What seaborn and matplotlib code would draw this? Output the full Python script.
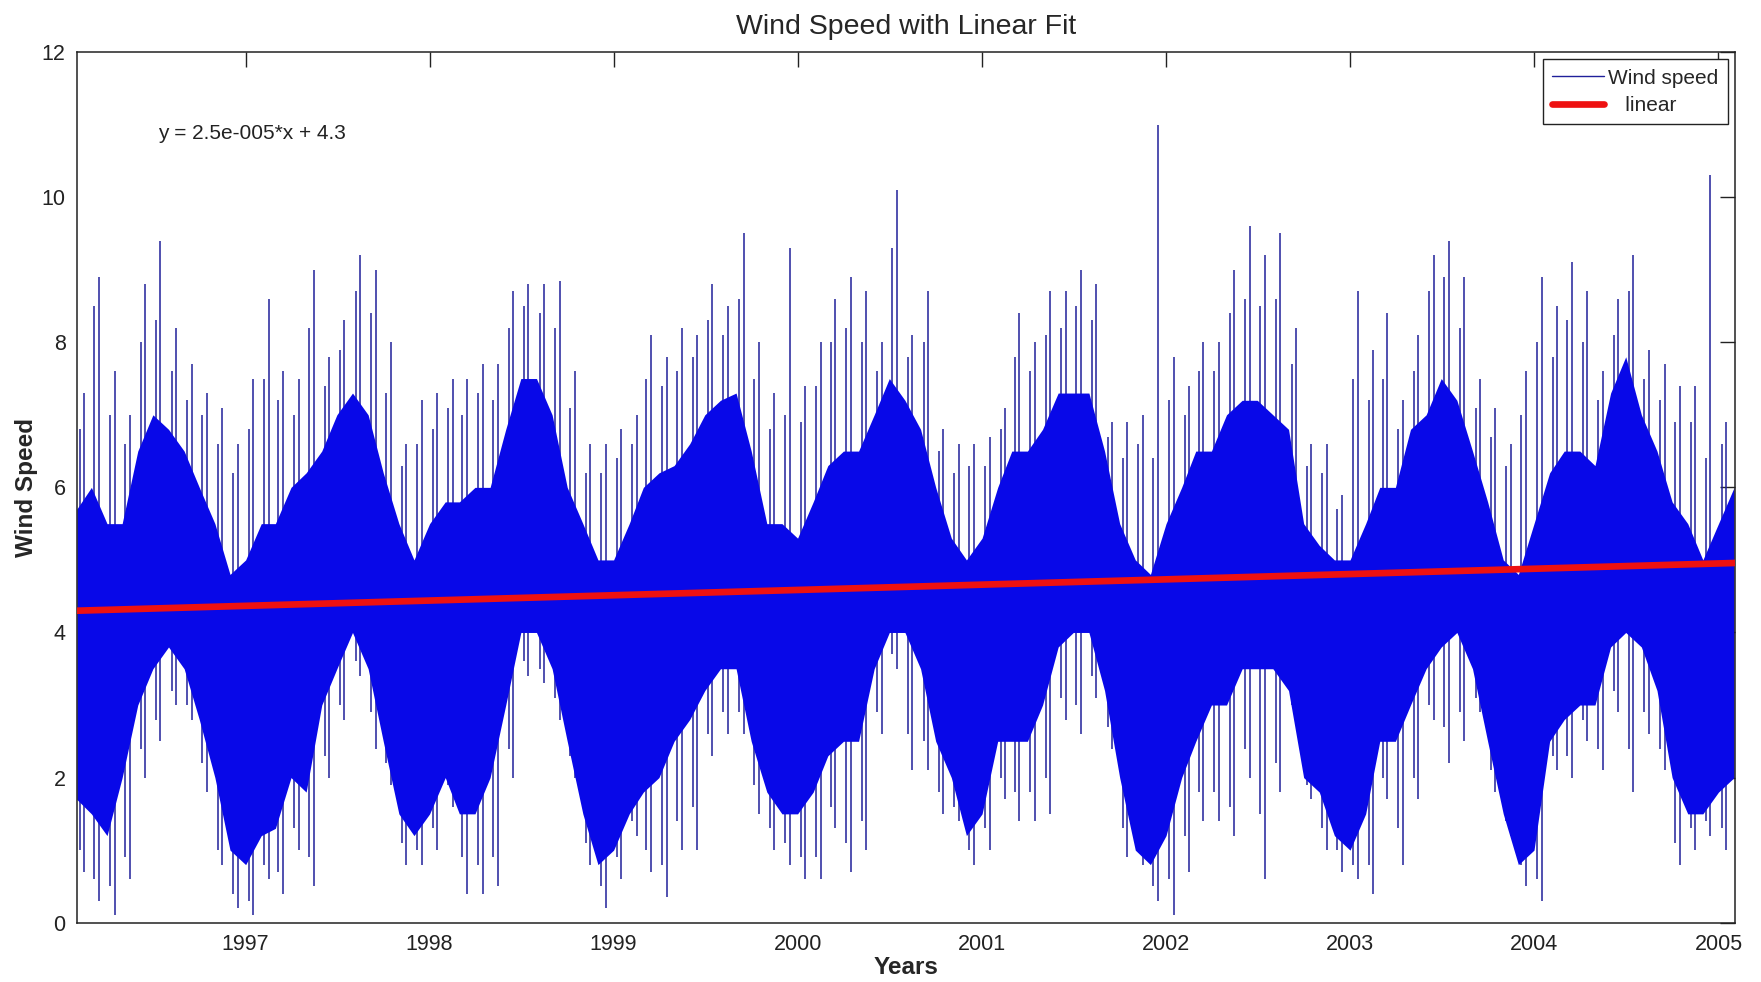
import numpy as np
import pandas as pd
import matplotlib
matplotlib.use("Agg")
import matplotlib.pyplot as plt
from matplotlib.lines import Line2D
import seaborn as sns

# monthly readings of the wind speed trace, Feb 1996 .. Feb 2005
# band_* = dense part of the trace, peak_* = extreme spikes in that month,
# spike2_* = the next-largest spikes of the month
band_low = [1.7, 1.5, 1.2, 2.0, 3.0, 3.5, 3.8, 3.5, 2.8, 2.0, 1.0, 0.8,
            1.2, 1.3, 2.0, 1.8, 3.0, 3.5, 4.0, 3.5, 2.5, 1.5, 1.2, 1.5,
            2.0, 1.5, 1.5, 2.0, 3.0, 4.0, 4.0, 3.5, 2.5, 1.5, 0.8, 1.0,
            1.5, 1.8, 2.0, 2.5, 2.8, 3.2, 3.5, 3.5, 2.5, 1.8, 1.5, 1.5,
            1.8, 2.3, 2.5, 2.5, 3.5, 4.0, 4.0, 3.5, 2.5, 2.0, 1.2, 1.5,
            2.5, 2.5, 2.5, 3.0, 3.8, 4.0, 4.0, 3.2, 2.0, 1.0, 0.8, 1.2,
            2.0, 2.5, 3.0, 3.0, 3.5, 3.5, 3.5, 3.2, 2.0, 1.8, 1.2, 1.0,
            1.5, 2.5, 2.5, 3.0, 3.5, 3.8, 4.0, 3.5, 2.5, 1.5, 0.8, 1.0,
            2.5, 2.8, 3.0, 3.0, 3.8, 4.0, 3.8, 3.2, 2.0, 1.5, 1.5, 1.8,
            2.0]
band_high = [5.7, 6.0, 5.5, 5.5, 6.5, 7.0, 6.8, 6.5, 6.0, 5.5, 4.8, 5.0,
             5.5, 5.5, 6.0, 6.2, 6.5, 7.0, 7.3, 7.0, 6.2, 5.5, 5.0, 5.5,
             5.8, 5.8, 6.0, 6.0, 6.8, 7.5, 7.5, 7.0, 6.0, 5.5, 5.0, 5.0,
             5.5, 6.0, 6.2, 6.3, 6.6, 7.0, 7.2, 7.3, 6.5, 5.5, 5.5, 5.3,
             5.8, 6.3, 6.5, 6.5, 7.0, 7.5, 7.2, 6.8, 6.0, 5.3, 5.0, 5.3,
             6.0, 6.5, 6.5, 6.8, 7.3, 7.3, 7.3, 6.5, 5.5, 5.0, 4.8, 5.5,
             6.0, 6.5, 6.5, 7.0, 7.2, 7.2, 7.0, 6.8, 5.5, 5.2, 5.0, 5.0,
             5.5, 6.0, 6.0, 6.8, 7.0, 7.5, 7.2, 6.5, 5.8, 5.0, 4.8, 5.5,
             6.2, 6.5, 6.5, 6.3, 7.3, 7.8, 7.0, 6.5, 5.8, 5.5, 5.0, 5.5,
             6.0]
peak_low = [0.7, 0.3, 0.1, 0.6, 2.0, 2.5, 3.0, 2.8, 1.8, 0.8, 0.2, 0.1,
            0.6, 0.4, 1.0, 0.5, 2.0, 2.8, 3.4, 2.4, 1.9, 0.8, 0.8, 1.0,
            1.6, 0.4, 0.4, 0.5, 2.0, 3.4, 3.3, 2.8, 2.0, 0.8, 0.2, 0.6,
            1.2, 0.7, 0.35, 1.0, 1.0, 2.3, 2.6, 2.6, 1.5, 1.0, 0.8, 0.6,
            0.6, 1.3, 0.7, 1.0, 2.6, 3.5, 2.1, 2.1, 1.5, 1.4, 0.8, 1.0,
            1.7, 1.4, 1.4, 1.5, 2.8, 2.6, 3.1, 2.4, 0.9, 0.8, 0.3, 0.1,
            0.7, 1.4, 1.4, 1.2, 2.0, 0.6, 1.8, 2.8, 1.7, 1.0, 0.7, 0.6,
            0.4, 1.7, 0.8, 1.7, 2.8, 2.2, 2.5, 2.9, 1.8, 1.2, 0.5, 0.3,
            2.1, 2.0, 2.5, 2.1, 2.9, 1.8, 2.6, 2.1, 0.8, 1.0, 1.2, 1.0,
            1.5]
peak_high = [7.3, 8.9, 7.6, 7.0, 8.8, 9.4, 8.2, 7.7, 7.3, 7.1, 6.6, 7.5,
             8.6, 7.6, 7.5, 9.0, 7.8, 8.3, 9.2, 9.0, 8.0, 6.6, 7.2, 7.3,
             7.5, 7.5, 7.7, 7.7, 8.7, 8.8, 8.8, 8.85, 7.6, 6.6, 6.6, 6.8,
             7.0, 8.1, 7.8, 8.2, 8.1, 8.8, 8.5, 9.5, 8.0, 7.3, 9.3, 7.4,
             8.0, 8.6, 8.9, 8.7, 8.0, 10.1, 8.1, 8.7, 6.8, 6.6, 6.6, 6.7,
             7.1, 8.4, 8.0, 8.7, 8.7, 9.0, 8.8, 6.9, 6.9, 7.0, 11.0, 7.8,
             7.4, 8.0, 8.0, 9.0, 9.6, 9.2, 9.5, 8.2, 6.6, 6.6, 5.9, 8.7,
             7.9, 8.4, 7.2, 8.1, 9.2, 9.4, 8.9, 7.5, 7.1, 6.6, 7.6, 8.9,
             8.5, 9.1, 8.7, 7.6, 8.6, 9.2, 7.9, 7.7, 7.4, 7.4, 10.3, 6.9,
             6.6]
spike2_low = [1.0, 0.6, 0.5, 0.9, 2.4, 2.8, 3.2, 3.0, 2.2, 1.0, 0.4, 0.3,
              0.8, 0.7, 1.3, 0.9, 2.3, 3.0, 3.6, 2.9, 2.2, 1.1, 1.0, 1.3,
              1.9, 0.9, 0.8, 0.9, 2.4, 3.6, 3.5, 3.1, 2.3, 1.1, 0.5, 0.9,
              1.4, 1.0, 0.8, 1.4, 1.6, 2.6, 2.9, 2.9, 1.9, 1.3, 1.1, 0.9,
              0.9, 1.6, 1.1, 1.4, 2.9, 3.7, 2.6, 2.5, 1.8, 1.6, 1.0, 1.3,
              2.0, 1.8, 1.8, 2.0, 3.1, 3.0, 3.4, 2.7, 1.3, 1.0, 0.5, 0.6,
              1.2, 1.8, 1.8, 1.6, 2.4, 1.5, 2.2, 3.0, 1.9, 1.3, 1.0, 0.8,
              0.8, 2.0, 1.3, 2.0, 3.0, 2.7, 2.9, 3.1, 2.1, 1.4, 0.8, 0.6,
              2.3, 2.3, 2.8, 2.4, 3.2, 2.4, 2.9, 2.4, 1.1, 1.3, 1.4, 1.3,
              1.8]
spike2_high = [6.8, 8.5, 7.0, 6.6, 8.0, 8.3, 7.6, 7.2, 7.0, 6.6, 6.2, 6.8,
               7.5, 7.2, 7.0, 8.2, 7.4, 7.9, 8.7, 8.4, 7.3, 6.3, 6.6, 6.8,
               7.1, 7.0, 7.3, 7.2, 8.2, 8.5, 8.4, 8.2, 7.1, 6.2, 6.2, 6.4,
               6.6, 7.5, 7.4, 7.6, 7.8, 8.3, 8.1, 8.6, 7.5, 6.8, 7.0, 6.9,
               7.4, 8.0, 8.2, 8.0, 7.6, 9.3, 7.8, 8.0, 6.5, 6.2, 6.3, 6.3,
               6.8, 7.8, 7.6, 8.1, 8.2, 8.5, 8.3, 6.7, 6.4, 6.6, 6.4, 7.2,
               7.0, 7.6, 7.6, 8.4, 8.6, 8.5, 8.6, 7.7, 6.3, 6.2, 5.7, 7.5,
               7.2, 7.5, 6.8, 7.6, 8.7, 8.9, 8.2, 7.1, 6.7, 6.3, 7.0, 8.0,
               7.8, 8.3, 8.0, 7.2, 8.1, 8.7, 7.5, 7.2, 6.9, 6.9, 6.4, 6.6,
               6.4]

# linear fit printed on the chart (x = index of the 3-hourly samples)
fit_slope = 2.5e-5
fit_intercept = 4.3
fit_text = "y = 2.5e-005*x + 4.3"
year_ticks = list(range(1997, 2006))

months = pd.date_range("1996-02-01", periods=len(band_low), freq="MS")
x_start = pd.Timestamp("1996-02-01")
x_end = pd.Timestamp("2005-02-03")
n_samples = (x_end - x_start) / pd.Timedelta(hours=3)
fit = pd.DataFrame({"date": [x_start, x_end],
                    "speed": [fit_intercept, fit_intercept + fit_slope * n_samples]})

sns.set_style("white")
plt.rcParams["font.family"] = ["Liberation Sans", "DejaVu Sans"]
plt.rcParams["xtick.direction"] = "in"
plt.rcParams["ytick.direction"] = "in"

fig = plt.figure(figsize=(17.61, 9.82), dpi=100)
ax = fig.add_axes([0.0436, 0.0604, 0.9417, 0.8866])

blue = "#0808e8"
line_blue = "#20209a"
ax.vlines(months + pd.Timedelta(days=15), peak_low, peak_high, color=line_blue, lw=1.1, zorder=1)
ax.vlines(months + pd.Timedelta(days=6), spike2_low, spike2_high, color=line_blue, lw=1.1, zorder=1)
ax.fill_between(months, band_low, band_high, color=blue, lw=0, zorder=2)
sns.lineplot(data=fit, x="date", y="speed", color="#ee1111", lw=4.8, ax=ax, zorder=3)

ax.set_xlim(x_start, x_end)
ax.set_ylim(0, 12)
ax.set_yticks(range(0, 13, 2))
ax.set_xticks([pd.Timestamp(f"{y}-01-01") for y in year_ticks])
ax.set_xticklabels([str(y) for y in year_ticks])
ax.tick_params(axis="both", labelsize=15.5, colors="#222222", length=11, width=1,
               top=True, right=True, pad=8)
for s in ax.spines.values():
    s.set_color("#222222")
    s.set_linewidth(1.1)

ax.set_title("Wind Speed with Linear Fit", fontsize=20.5, pad=13)
ax.set_xlabel("Years", fontsize=17.5, fontweight="bold", labelpad=1)
ax.set_ylabel("Wind Speed", fontsize=17.5, fontweight="bold", labelpad=3)
ax.text(0.049, 0.906, fit_text, transform=ax.transAxes, fontsize=15,
        va="center", color="#222222")

handles = [Line2D([], [], color=line_blue, lw=1), Line2D([], [], color="#ee1111", lw=4.8)]
ax.legend(handles, ["Wind speed", "   linear"], loc="upper right", fontsize=15,
          frameon=True, fancybox=False, edgecolor="#222222", framealpha=1,
          borderaxespad=0.35, handlelength=2.5, handletextpad=0.2,
          borderpad=0.45, labelspacing=0.4)

fig.savefig("out.png", dpi=100)
